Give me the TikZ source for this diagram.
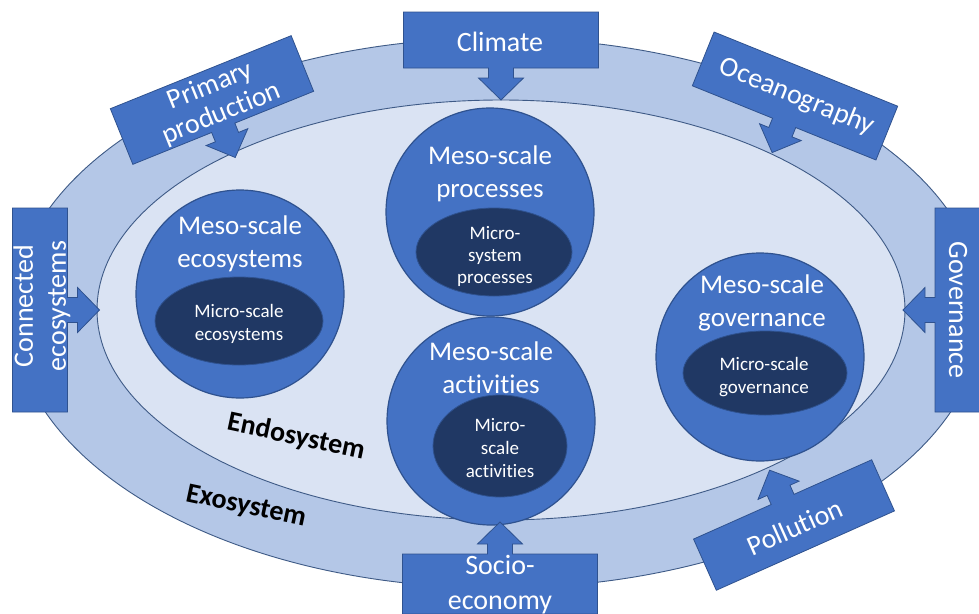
\documentclass[tikz,border=0pt]{standalone}
\usepackage{fontspec}
\setmainfont{Carlito}[Ligatures={NoCommon,NoContextual}, RawFeature={-liga;-clig}]
\usetikzlibrary{shapes.geometric}
\definecolor{cBox}{HTML}{4472C4}
\definecolor{cBoxLine}{HTML}{2F528F}
\definecolor{cRing}{HTML}{B4C7E7}
\definecolor{cInner}{HTML}{DAE3F3}
\definecolor{cEdge}{HTML}{3E5A86}
\definecolor{cMicro}{HTML}{203864}
\begin{document}
\begin{tikzpicture}[x=1pt,y=-1pt,
  callbox/.style={fill=cBox, draw=cBoxLine, line width=0.8pt, line join=miter},
  ring/.style={fill=cRing, draw=cEdge, line width=0.9pt},
  inner/.style={fill=cInner, draw=cEdge, line width=0.9pt},
  meso/.style={circle, fill=cBox, draw=cBoxLine, line width=1.2pt, inner sep=0pt, minimum size=208pt},
  micro/.style={ellipse, fill=cMicro, draw=cBoxLine, line width=0.8pt, inner sep=0pt},
  bigtxt/.style={text=white, align=center, inner sep=0pt, font=\fontsize{28}{33}\selectfont},
  mesotxt/.style={text=white, align=center, inner sep=0pt, font=\fontsize{27}{33}\selectfont},
  microtxt/.style={text=white, align=center, inner sep=0pt, font=\fontsize{19}{23}\selectfont},
  systxt/.style={text=black, inner sep=0pt, font=\bfseries\fontsize{28}{32}\selectfont},
  pics/callout/.style 2 args={code={
    \path[callbox] ({-#1/2},{-#2/2}) -- ({#1/2},{-#2/2}) -- ({#1/2},{#2/2})
      -- (12.5,{#2/2}) -- (12.5,{#2/2+10}) -- (22.5,{#2/2+10}) -- (0,{#2/2+32})
      -- (-22.5,{#2/2+10}) -- (-12.5,{#2/2+10}) -- (-12.5,{#2/2})
      -- ({-#1/2},{#2/2}) -- cycle;}}
]
\useasboundingbox (0,0) rectangle (979,613);
\clip (0,0) rectangle (979,613);
\fill[white] (0,0) rectangle (979,613);

% system ellipses
\path[ring] (498,313) ellipse [x radius=485, y radius=275];
\path[inner] (501,310) ellipse [x radius=404, y radius=210];

% meso-scale circles with micro-scale ellipses
\node[meso] (c1) at (240,294) {};
\node[micro, minimum width=168pt, minimum height=88pt] (m1) at (239,321) {};
\node[mesotxt] (t1) at (240,244) {Meso-scale\\ecosystems};
\node[microtxt] (u1) at (239,324) {Micro-scale\\ecosystems};

\node[meso] (c2) at (490,212) {};
\node[micro, minimum width=156pt, minimum height=88pt] (m2) at (494,252) {};
\node[mesotxt] (t2) at (490,174) {Meso-scale\\processes};
\node[microtxt, font=\fontsize{19}{22}\selectfont] (u2) at (495,256) {Micro-\\system\\processes};

\node[meso] (c3) at (491,421) {};
\node[micro, minimum width=134pt, minimum height=102pt] (m3) at (500,446) {};
\node[mesotxt] (t3) at (491,368) {Meso-scale\\activities};
\node[microtxt] (u3) at (500,448) {Micro-\\scale\\activities};

\node[meso] (c4) at (760,357) {};
\node[micro, minimum width=164pt, minimum height=84pt] (m4) at (765,373) {};
\node[mesotxt] (t4) at (762,303) {Meso-scale\\governance};
\node[microtxt] (u4) at (764,377) {Micro-scale\\governance};

% labels
\node[systxt, rotate=-12] (endo) at (296,437) {Endosystem};
\node[systxt, rotate=-12] (exo) at (246,507) {Exosystem};

% callouts
\pic at (501,40) {callout={195}{56}};
\node[bigtxt] (climate) at (500,42) {Climate};

\pic[rotate=22] at (212,100) {callout={195}{60}};
\node[bigtxt, rotate=22, font=\fontsize{28}{30}\selectfont] (primary) at (216,100) {Primary\\production};

\pic[rotate=-22] at (795,96) {callout={198}{58}};
\node[bigtxt, rotate=-22] (ocean) at (797,97) {Oceanography};

\pic[rotate=90] at (40,310) {callout={204}{55}};
\node[bigtxt, rotate=90] (connected) at (42,306) {Connected\\ecosystems};

\pic[rotate=-90] at (961,310) {callout={204}{52}};
\node[bigtxt, rotate=-90] (gov) at (958,310) {Governance};

\pic[rotate=180] at (500,584) {callout={195}{60}};
\node[bigtxt, font=\fontsize{28}{35}\selectfont] (socio) at (500,585) {Socio-\\economy};

\pic[rotate=204] at (794,525) {callout={195}{56}};
\node[bigtxt, rotate=24] (pollution) at (795,527) {Pollution};
\end{tikzpicture}
\end{document}
